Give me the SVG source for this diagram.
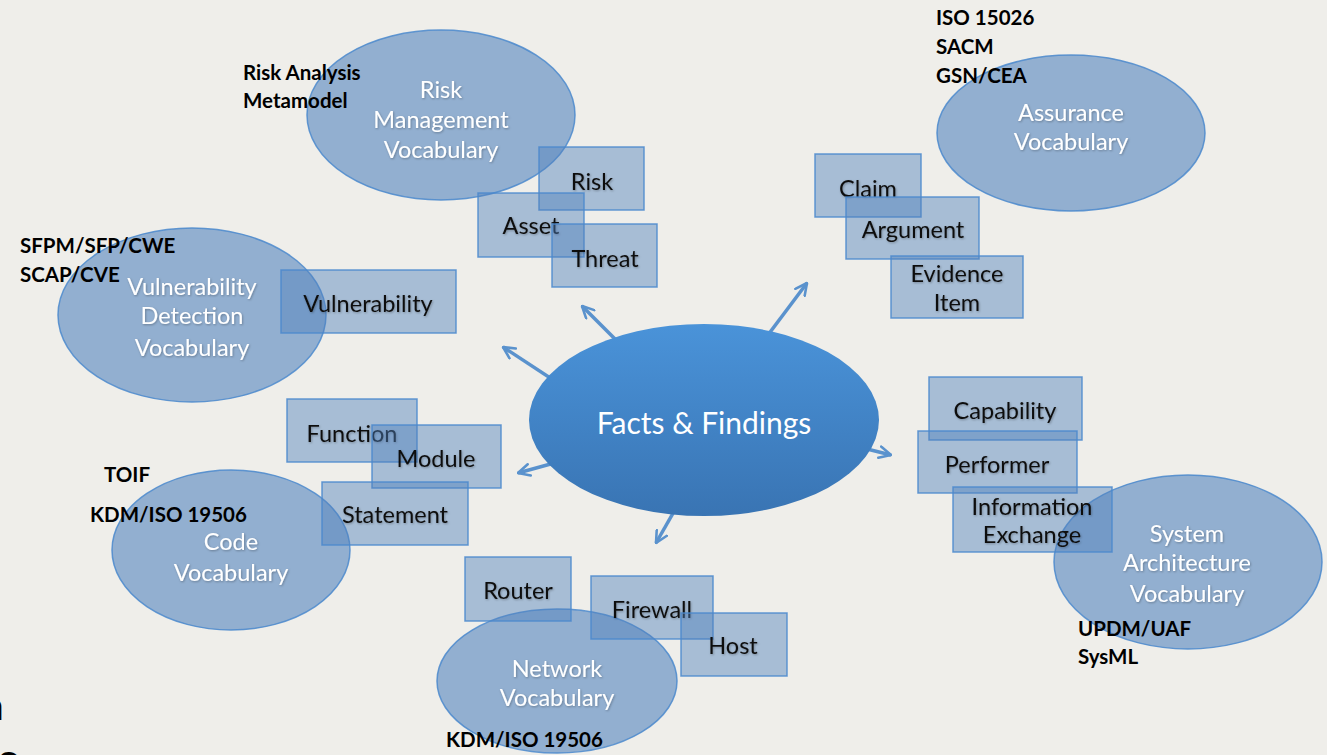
<svg xmlns="http://www.w3.org/2000/svg" width="1327" height="755" viewBox="0 0 1327 755">
<defs>
<linearGradient id="cg" x1="0" y1="0" x2="0" y2="1">
<stop offset="0" stop-color="#4a93d9"/>
<stop offset="1" stop-color="#3974b3"/>
</linearGradient>
<filter id="ts" x="-10%" y="-30%" width="120%" height="160%">
<feDropShadow dx="0.8" dy="1" stdDeviation="0.8" flood-color="#000" flood-opacity="0.3"/>
</filter>
<marker id="ah" viewBox="0 0 12 12" refX="11" refY="6" markerWidth="14" markerHeight="14" markerUnits="userSpaceOnUse" orient="auto">
<path d="M1,1 L11,6 L1,11" fill="none" stroke="#5a92cd" stroke-width="2.2" stroke-linecap="round" stroke-linejoin="round"/>
</marker>
</defs>
<style>
.vocab{fill:#4f81bd;fill-opacity:0.58;stroke:#4a88cc;stroke-opacity:0.85;stroke-width:1.5}
.box{fill:#4f81bd;fill-opacity:0.45;stroke:#4a88cc;stroke-opacity:0.85;stroke-width:1.5}
.vt{font-family:Lato,"Liberation Sans",sans-serif;font-size:23.5px;fill:#ffffff;text-anchor:middle}
.bt{font-family:Lato,"Liberation Sans",sans-serif;font-size:23.5px;fill:#111111;text-anchor:middle}
.lb{font-family:Lato,"Liberation Sans",sans-serif;font-size:20.5px;font-weight:bold;fill:#000000}
.conn{stroke:#5a92cd;stroke-width:3.5;fill:none;marker-end:url(#ah)}
</style>
<rect x="0" y="0" width="1327" height="755" fill="#efeeea"/>

<g id="connectors">
<line class="conn" x1="628" y1="352" x2="582" y2="306"/>
<line class="conn" x1="762" y1="343" x2="807" y2="283"/>
<line class="conn" x1="567" y1="389" x2="503" y2="347"/>
<line class="conn" x1="576" y1="457" x2="518" y2="473"/>
<line class="conn" x1="688" y1="487" x2="656" y2="543"/>
<line class="conn" x1="847" y1="444" x2="891" y2="455"/>
</g>

<g id="facts-findings">
<ellipse cx="704" cy="420" rx="175" ry="96" fill="url(#cg)"/>
<text x="704" y="434" font-family="Lato,'Liberation Sans',sans-serif" font-size="30" fill="#ffffff" text-anchor="middle">Facts &amp; Findings</text>
</g>

<g id="risk-management">
<ellipse class="vocab" cx="441" cy="115" rx="134" ry="85"/>
<text class="vt" filter="url(#ts)"><tspan x="441" y="98">Risk</tspan><tspan x="441" y="128">Management</tspan><tspan x="441" y="158">Vocabulary</tspan></text>
<text class="lb"><tspan x="243" y="80">Risk Analysis</tspan><tspan x="243" y="108">Metamodel</tspan></text>
</g>
<g id="risk">
<rect class="box" x="539" y="147" width="105" height="63"/>
<text class="bt" x="592" y="190" filter="url(#ts)">Risk</text>
</g>
<g id="asset">
<rect class="box" x="478" y="193" width="106" height="64"/>
<text class="bt" x="531" y="234" filter="url(#ts)">Asset</text>
</g>
<g id="threat">
<rect class="box" x="552" y="224" width="105" height="63"/>
<text class="bt" x="605" y="267" filter="url(#ts)">Threat</text>
</g>

<g id="assurance">
<ellipse class="vocab" cx="1071" cy="133" rx="134" ry="78"/>
<text class="vt" filter="url(#ts)"><tspan x="1071" y="121">Assurance</tspan><tspan x="1071" y="150">Vocabulary</tspan></text>
<text class="lb"><tspan x="936" y="25">ISO 15026</tspan><tspan x="936" y="54">SACM</tspan><tspan x="936" y="83">GSN/CEA</tspan></text>
</g>
<g id="claim">
<rect class="box" x="815" y="154" width="106" height="63"/>
<text class="bt" x="868" y="197" filter="url(#ts)">Claim</text>
</g>
<g id="argument">
<rect class="box" x="846" y="197" width="133" height="62"/>
<text class="bt" x="913" y="238" filter="url(#ts)">Argument</text>
</g>
<g id="evidence-item">
<rect class="box" x="891" y="256" width="132" height="62"/>
<text class="bt" filter="url(#ts)"><tspan x="957" y="282">Evidence</tspan><tspan x="957" y="311">Item</tspan></text>
</g>

<g id="vulnerability-detection">
<ellipse class="vocab" cx="192" cy="315" rx="134" ry="87"/>
<text class="vt" filter="url(#ts)"><tspan x="192" y="295">Vulnerability</tspan><tspan x="192" y="324">Detection</tspan><tspan x="192" y="356">Vocabulary</tspan></text>
<text class="lb"><tspan x="20" y="253">SFPM/SFP/CWE</tspan><tspan x="20" y="282">SCAP/CVE</tspan></text>
</g>
<g id="vulnerability">
<rect class="box" x="281" y="270" width="175" height="63"/>
<text class="bt" x="368" y="312" filter="url(#ts)">Vulnerability</text>
</g>

<g id="code">
<ellipse class="vocab" cx="231" cy="550" rx="119" ry="80"/>
<text class="vt" filter="url(#ts)"><tspan x="231" y="550">Code</tspan><tspan x="231" y="581">Vocabulary</tspan></text>
<text class="lb" x="104" y="482">TOIF</text>
<text class="lb" x="90" y="522">KDM/ISO 19506</text>
</g>
<g id="function">
<rect class="box" x="287" y="399" width="130" height="63"/>
<text class="bt" x="352" y="442" filter="url(#ts)">Function</text>
</g>
<g id="module">
<rect class="box" x="372" y="425" width="129" height="63"/>
<text class="bt" x="436" y="467" filter="url(#ts)">Module</text>
</g>
<g id="statement">
<rect class="box" x="322" y="482" width="146" height="63"/>
<text class="bt" x="395" y="523" filter="url(#ts)">Statement</text>
</g>

<g id="network">
<ellipse class="vocab" cx="557" cy="681" rx="120" ry="72"/>
<text class="vt" filter="url(#ts)"><tspan x="557" y="677">Network</tspan><tspan x="557" y="706">Vocabulary</tspan></text>
<text class="lb" x="446" y="747">KDM/ISO 19506</text>
</g>
<g id="router">
<rect class="box" x="465" y="557" width="106" height="64"/>
<text class="bt" x="518" y="599" filter="url(#ts)">Router</text>
</g>
<g id="firewall">
<rect class="box" x="591" y="576" width="122" height="63"/>
<text class="bt" x="652" y="618" filter="url(#ts)">Firewall</text>
</g>
<g id="host">
<rect class="box" x="681" y="613" width="106" height="63"/>
<text class="bt" x="733" y="654" filter="url(#ts)">Host</text>
</g>

<g id="system-architecture">
<ellipse class="vocab" cx="1188" cy="562" rx="134" ry="87"/>
<text class="vt" filter="url(#ts)"><tspan x="1187" y="542">System</tspan><tspan x="1187" y="571">Architecture</tspan><tspan x="1187" y="602">Vocabulary</tspan></text>
<text class="lb"><tspan x="1078" y="636">UPDM/UAF</tspan><tspan x="1078" y="664">SysML</tspan></text>
</g>
<g id="capability">
<rect class="box" x="929" y="377" width="153" height="63"/>
<text class="bt" x="1005" y="419" filter="url(#ts)">Capability</text>
</g>
<g id="performer">
<rect class="box" x="918" y="431" width="159" height="62"/>
<text class="bt" x="997" y="473" filter="url(#ts)">Performer</text>
</g>
<g id="information-exchange">
<rect class="box" x="953" y="487" width="159" height="65"/>
<text class="bt" filter="url(#ts)"><tspan x="1032" y="515">Information</tspan><tspan x="1032" y="543">Exchange</tspan></text>
</g>

<text x="-16" y="720" font-family="Lato,'Liberation Sans',sans-serif" font-size="40" fill="#000">a</text>
<text x="-2" y="776" font-family="Lato,'Liberation Sans',sans-serif" font-size="46" font-weight="bold" fill="#000">s</text>
</svg>
